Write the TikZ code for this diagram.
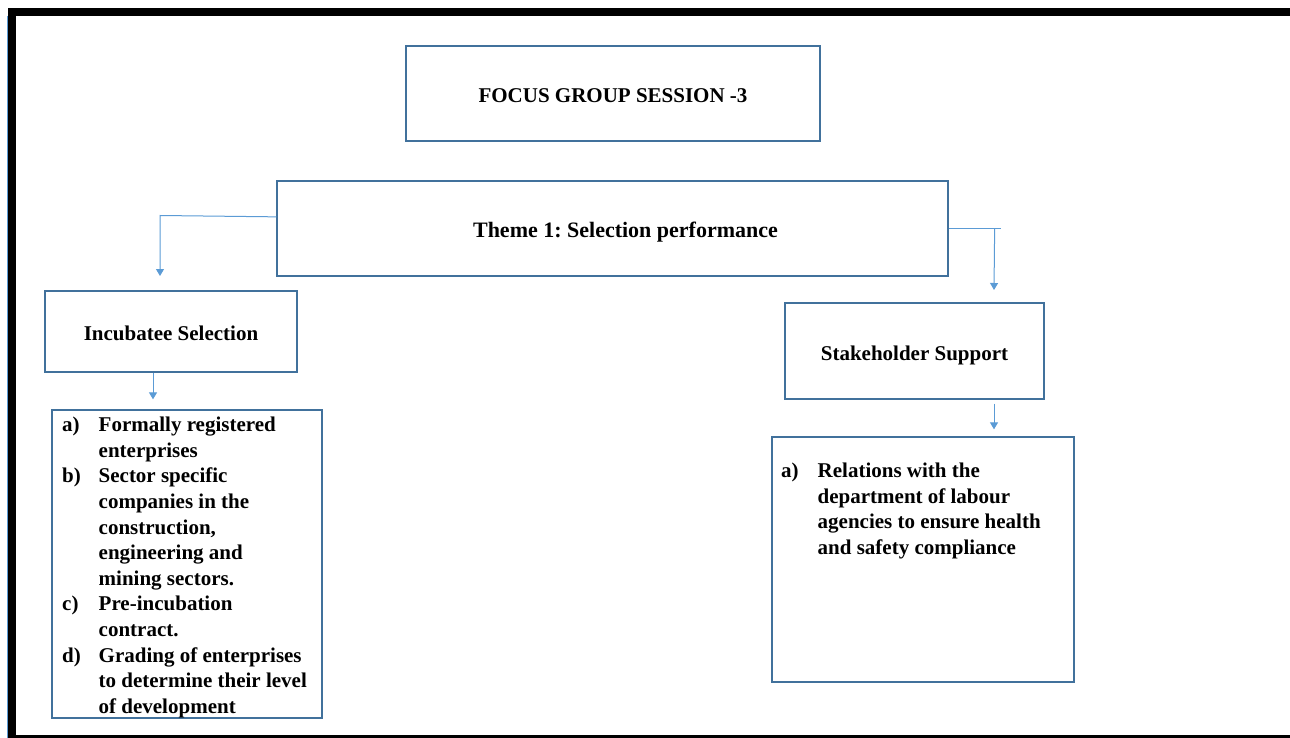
\documentclass[tikz,border=0pt]{standalone}
\usepackage{fontspec}
\setmainfont{Liberation Serif}
\usetikzlibrary{arrows.meta,calc}
\definecolor{boxblue}{HTML}{41719C}
\definecolor{linkblue}{HTML}{5B9BD5}
\frenchspacing
% hanging-indent helpers for the lettered lists
\newcommand\listlab[1]{\makebox[36.5pt][l]{#1}}
\newcommand\listind{\hspace*{36.5pt}}
\begin{document}
\begin{tikzpicture}[x=1pt,y=-1pt,
  box/.style={draw=boxblue,line width=1.3pt,inner sep=0pt,
    text height=18pt,text depth=0pt,
    font=\bfseries\fontsize{21}{25.6}\selectfont},
  link/.style={draw=linkblue,line width=1pt,-{Triangle[length=7pt,width=8pt]}},
  plainlink/.style={draw=linkblue,line width=1pt},
  listtext/.style={inner sep=0pt,anchor=north west,align=left,
    font=\bfseries\fontsize{21}{25.6}\selectfont}]
\useasboundingbox (0,0) rectangle (1290,738);

% page frame
\fill[black] (8,8) rectangle (1290,16);
\fill[black] (8,16) rectangle (16,738);
\fill[black] (16,735) rectangle (1290,738);
\draw[linkblue,line width=1pt] (7.5,16) -- (7.5,738);

% boxes
\node[box,minimum width=414pt,minimum height=95pt] (focus) at (613,93.5) {FOCUS GROUP SESSION -3};
\node[box,minimum width=671pt,minimum height=95pt,font=\bfseries\fontsize{22}{26}\selectfont] (theme) at (612.5,228.5) {\hspace*{26pt}Theme 1: Selection performance};
\node[box,minimum width=252pt,minimum height=81pt] (incub) at (171,331.5) {Incubatee Selection};
\node[box,minimum width=259pt,minimum height=96pt] (stake) at (914.5,351) {Stakeholder Support};
\node[box,minimum width=270pt,minimum height=308pt] (inclist) at (187,564) {};
\node[box,minimum width=302pt,minimum height=245pt] (stlist) at (923,559.5) {};

% list contents
\node[listtext] (inctext) at (62,417) {%
\listlab{a)}Formally registered\\
\listind enterprises\\
\listlab{b)}Sector specific\\
\listind companies in the\\
\listind construction,\\
\listind engineering and\\
\listind mining sectors.\\
\listlab{c)}Pre-incubation\\
\listind contract.\\
\listlab{d)}Grading of enterprises\\
\listind to determine their level\\
\listind of development};
\node[listtext] (sttext) at (781,463) {%
\listlab{a)}Relations with the\\
\listind department of labour\\
\listind agencies to ensure health\\
\listind and safety compliance};

% connectors
\coordinate (incubin) at (160,276);
\draw[link] ($(theme.north west)+(0,36.5)$) -- (160,215.5) -- (incubin);
\coordinate (stakein) at (994,290);
\draw[plainlink] (theme.east) -- ++(52,0);
\draw[link] ($(theme.east)+(46,0)$) -- (stakein);
\draw[link] ($(incub.south)+(-18,0)$) -- ($(inclist.north)+(-34,-10)$);
\draw[link] ($(stake.south)+(79.5,4)$) -- ($(stlist.north)+(71,-7)$);
\end{tikzpicture}
\end{document}
